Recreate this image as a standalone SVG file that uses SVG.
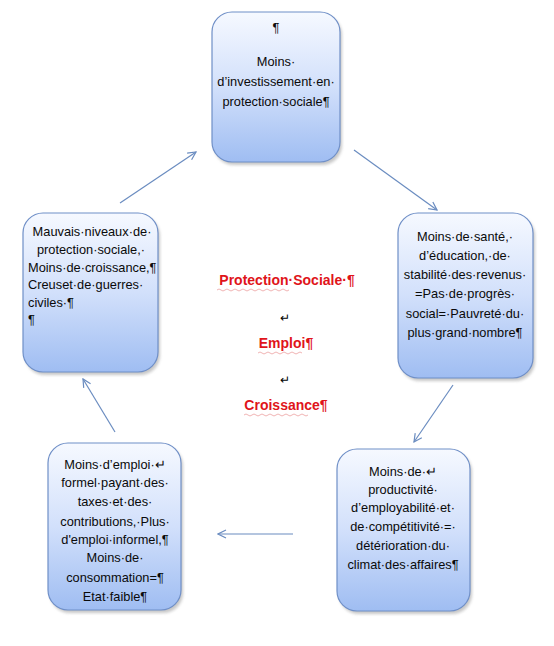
<svg xmlns="http://www.w3.org/2000/svg" width="554" height="646" viewBox="0 0 554 646">
<style>
.box{fill:url(#g);stroke:#6f8fc7;stroke-width:1.2}
.sh{fill:#9a9a9a;opacity:.55;filter:url(#blur)}
.t{font-family:"Liberation Sans",Arial,sans-serif;font-size:12.8px;fill:#0a0a0a;text-anchor:middle}
.l{text-anchor:start}
.c{font-family:"Liberation Sans",Arial,sans-serif;font-size:14px;font-weight:bold;fill:#e0141a;text-anchor:middle}
.r{font-family:"Liberation Sans",Arial,sans-serif;font-size:12px;fill:#000;text-anchor:middle}
.cn{stroke:#6a8cc0;stroke-width:1.2;fill:none;marker-end:url(#ah)}
.sq{stroke:#e06060;stroke-width:0.8;fill:none;opacity:.6}
</style>
<defs>
<linearGradient id="g" x1="0" y1="0" x2="0" y2="1">
<stop offset="0" stop-color="#f6f9ff"/>
<stop offset="0.5" stop-color="#d2e0fb"/>
<stop offset="1" stop-color="#9fbdf2"/>
</linearGradient>
<filter id="blur" x="-10%" y="-10%" width="130%" height="130%"><feGaussianBlur stdDeviation="1.5"/></filter>
<marker id="ah" viewBox="0 0 10 10" refX="9" refY="5" markerWidth="10" markerHeight="10" markerUnits="userSpaceOnUse" orient="auto">
<path d="M1,1 L9,5 L1,9" fill="none" stroke="#6a8cc0" stroke-width="1.2"/>
</marker>
</defs>

<g id="connectors">
<line class="cn" x1="354" y1="150" x2="437" y2="210"/>
<line class="cn" x1="453" y1="385" x2="414" y2="442"/>
<line class="cn" x1="293" y1="534" x2="218" y2="534"/>
<line class="cn" x1="115" y1="432" x2="83" y2="379"/>
<line class="cn" x1="120" y1="203" x2="196" y2="152"/>
</g>

<g id="n1">
<rect class="sh" x="214" y="15" width="128" height="150" rx="20"/>
<rect class="box" x="212" y="12" width="128" height="150" rx="20"/>
<text class="t" x="276" y="32">¶</text>
<text class="t" x="276" y="66">Moins·</text>
<text class="t" x="276" y="86">d’investissement·en·</text>
<text class="t" x="276" y="106">protection·sociale¶</text>
</g>

<g id="n2">
<rect class="sh" x="400" y="216" width="135" height="165" rx="20"/>
<rect class="box" x="398" y="213" width="135" height="165" rx="20"/>
<text class="t" x="465" y="241">Moins·de·santé,·</text>
<text class="t" x="465" y="260">d’éducation,·de·</text>
<text class="t" x="465" y="279">stabilité·des·revenus·</text>
<text class="t" x="465" y="298">=Pas·de·progrès·</text>
<text class="t" x="465" y="318">social=·Pauvreté·du·</text>
<text class="t" x="465" y="337">plus·grand·nombre¶</text>
</g>

<g id="n3">
<rect class="sh" x="339" y="452" width="133" height="162" rx="20"/>
<rect class="box" x="337" y="449" width="133" height="162" rx="20"/>
<text class="t" x="403" y="476">Moins·de·↵</text>
<text class="t" x="403" y="494">productivité·</text>
<text class="t" x="403" y="512">d’employabilité·et·</text>
<text class="t" x="403" y="531">de·compétitivité·=·</text>
<text class="t" x="403" y="550">détérioration·du·</text>
<text class="t" x="403" y="569">climat·des·affaires¶</text>
</g>

<g id="n4">
<rect class="sh" x="50" y="446" width="133" height="167" rx="20"/>
<rect class="box" x="48" y="443" width="133" height="167" rx="20"/>
<text class="t" x="115" y="469">Moins·d’emploi·↵</text>
<text class="t" x="115" y="487">formel·payant·des·</text>
<text class="t" x="115" y="506">taxes·et·des·</text>
<text class="t" x="115" y="526">contributions,·Plus·</text>
<text class="t" x="115" y="544">d'emploi·informel,¶</text>
<text class="t" x="115" y="562">Moins·de·</text>
<text class="t" x="115" y="582">consommation=¶</text>
<text class="t" x="115" y="601">Etat·faible¶</text>
</g>

<g id="n5">
<rect class="sh" x="25" y="216" width="135" height="159" rx="20"/>
<rect class="box" x="23" y="213" width="135" height="159" rx="20"/>
<text class="t" x="92" y="236">Mauvais·niveaux·de·</text>
<text class="t" x="91" y="254">protection·sociale,·</text>
<text class="t l" x="28" y="272">Moins·de·croissance,¶</text>
<text class="t l" x="28" y="289">Creuset·de·guerres·</text>
<text class="t l" x="28" y="307">civiles·¶</text>
<text class="t l" x="28" y="324">¶</text>
</g>

<g id="center">
<text class="c" x="287" y="285">Protection·Sociale·¶</text>
<path class="sq" d="M217,290 q2,-2 4,0 t4,0 t4,0 t4,0 t4,0 t4,0 t4,0 t4,0 t4,0 t4,0 t4,0 t4,0 t4,0 t4,0 t4,0 t4,0 t4,0 t4,0"/>
<text class="r" x="285" y="322">↵</text>
<text class="c" x="286" y="348">Emploi¶</text>
<path class="sq" d="M258,353 q2,-2 4,0 t4,0 t4,0 t4,0 t4,0 t4,0 t4,0 t4,0 t4,0 t4,0 t4,0"/>
<text class="r" x="285" y="384">↵</text>
<text class="c" x="286" y="410">Croissance¶</text>
<path class="sq" d="M244,415 q2,-2 4,0 t4,0 t4,0 t4,0 t4,0 t4,0 t4,0 t4,0 t4,0 t4,0 t4,0 t4,0 t4,0 t4,0 t4,0 t4,0"/>
</g>
</svg>
